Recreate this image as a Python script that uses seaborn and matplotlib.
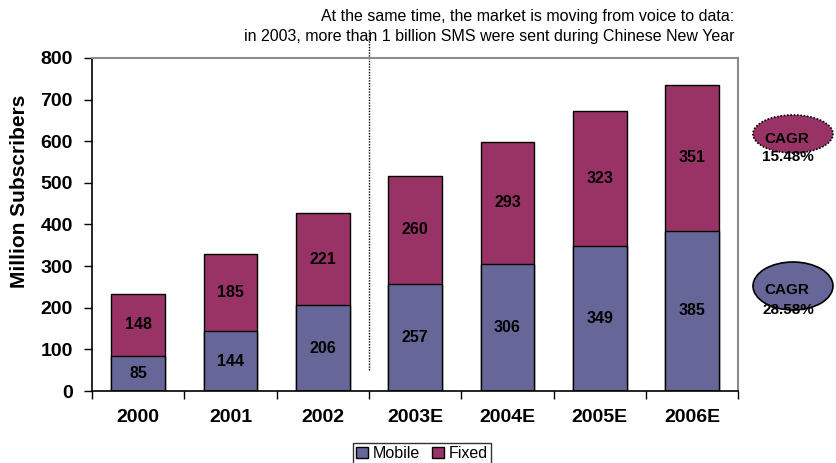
import matplotlib
matplotlib.use("Agg")
import matplotlib.pyplot as plt
from matplotlib.patches import Ellipse, Patch
from matplotlib.lines import Line2D
import seaborn as sns
import pandas as pd
import numpy as np

years = ["2000", "2001", "2002", "2003E", "2004E", "2005E", "2006E"]
mobile = [85, 144, 206, 257, 306, 349, 385]
fixed = [148, 185, 221, 260, 293, 323, 351]
cagr_fixed = "15.48%"
cagr_mobile = "28.58%"
note_lines = ["At the same time, the market is moving from voice to data:",
              "in 2003, more than 1 billion SMS were sent during Chinese New Year"]

MOBILE_C = "#666699"
FIXED_C = "#993366"

sns.set_theme(style="white")
plt.rcParams["font.family"] = ["Liberation Sans", "DejaVu Sans"]
for key in ["text.color", "axes.labelcolor", "xtick.color", "ytick.color"]:
    plt.rcParams[key] = "black"

df = pd.DataFrame({"year": years, "mobile": mobile, "fixed": fixed})
df["total"] = df["mobile"] + df["fixed"]

fig = plt.figure(figsize=(8.37, 4.63), dpi=100)
ax = fig.add_axes([0.110, 0.1555, 0.772, 0.7195])

# stacked bars: totals in the fixed colour, mobile drawn over them
sns.barplot(data=df, x="year", y="total", color=FIXED_C, saturation=1,
            width=0.58, edgecolor="black", linewidth=1.0, ax=ax)
sns.barplot(data=df, x="year", y="mobile", color=MOBILE_C, saturation=1,
            width=0.58, edgecolor="black", linewidth=1.0, ax=ax)

for i, (m, f) in enumerate(zip(mobile, fixed)):
    ax.text(i, m / 2, f"{m}", ha="center", va="center", fontsize=11.5,
            fontweight="bold", color="black")
    ax.text(i, m + f / 2, f"{f}", ha="center", va="center", fontsize=11.5,
            fontweight="bold", color="black")

ax.set_ylim(0, 800)
ax.set_xlim(-0.5, 6.5)
ax.set_yticks(np.arange(0, 801, 100))
ax.set_xticks(np.arange(-0.5, 7, 1), minor=False)
ax.set_xticklabels([])
ax.set_xticks(np.arange(7), minor=True)
ax.set_xticklabels(years, minor=True)
ax.tick_params(axis="x", which="major", direction="out", length=6, width=1,
               color="black", bottom=True)
ax.tick_params(axis="x", which="minor", length=0, pad=13, labelsize=14)
ax.tick_params(axis="y", direction="out", length=6, width=1, color="black",
               left=True, labelsize=14, pad=8)
for lab in ax.get_xticklabels(minor=True) + ax.get_yticklabels():
    lab.set_fontweight("bold")
ax.set_xlabel("")
ax.set_ylabel("Million Subscribers", fontsize=15, fontweight="bold")
ax.yaxis.set_label_coords(-0.097, 0.60)

for s in ["left", "bottom"]:
    ax.spines[s].set_color("black")
    ax.spines[s].set_linewidth(1.2)
for s in ["top", "right"]:
    ax.spines[s].set_color("#8c8c8c")
    ax.spines[s].set_linewidth(1.5)

# dotted separator between actuals and estimates
ax.add_line(Line2D([2.5, 2.5], [50, 870], color="black", linestyle=(0, (1, 1)),
                   linewidth=1.0, clip_on=False))

fig.text(0.877, 1 - 17 / 463, note_lines[0], ha="right", va="center", fontsize=11.5)
fig.text(0.877, 1 - 37 / 463, note_lines[1], ha="right", va="center", fontsize=11.5)

# CAGR bubbles
ell1 = Ellipse((793 / 837, 1 - 134 / 463), 80 / 837, 38 / 463, transform=fig.transFigure,
               facecolor=FIXED_C, edgecolor="black", linestyle=(0, (1, 1)), linewidth=1.2)
ell2 = Ellipse((793 / 837, 1 - 286 / 463), 80 / 837, 48 / 463, transform=fig.transFigure,
               facecolor=MOBILE_C, edgecolor="black", linewidth=1.2)
fig.add_artist(ell1)
fig.add_artist(ell2)
fig.text(787 / 837, 1 - 139 / 463, "CAGR", ha="center", va="center", fontsize=11, fontweight="bold")
fig.text(788 / 837, 1 - 157 / 463, cagr_fixed, ha="center", va="center", fontsize=11, fontweight="bold")
fig.text(787 / 837, 1 - 290 / 463, "CAGR", ha="center", va="center", fontsize=11, fontweight="bold")
fig.text(788 / 837, 1 - 310 / 463, cagr_mobile, ha="center", va="center", fontsize=11, fontweight="bold")

handles = [Patch(facecolor=MOBILE_C, edgecolor="black", label="Mobile"),
           Patch(facecolor=FIXED_C, edgecolor="black", label="Fixed")]
leg = fig.legend(handles=handles, loc="lower center", bbox_to_anchor=(0.504, -0.003),
                 ncol=2, frameon=True, fancybox=False, fontsize=11.5,
                 handlelength=0.75, handleheight=0.75, handletextpad=0.25,
                 columnspacing=0.8, borderpad=0.2, borderaxespad=0)
leg.get_frame().set_edgecolor("black")
leg.get_frame().set_linewidth(1.0)

fig.savefig("out.png", dpi=100)
